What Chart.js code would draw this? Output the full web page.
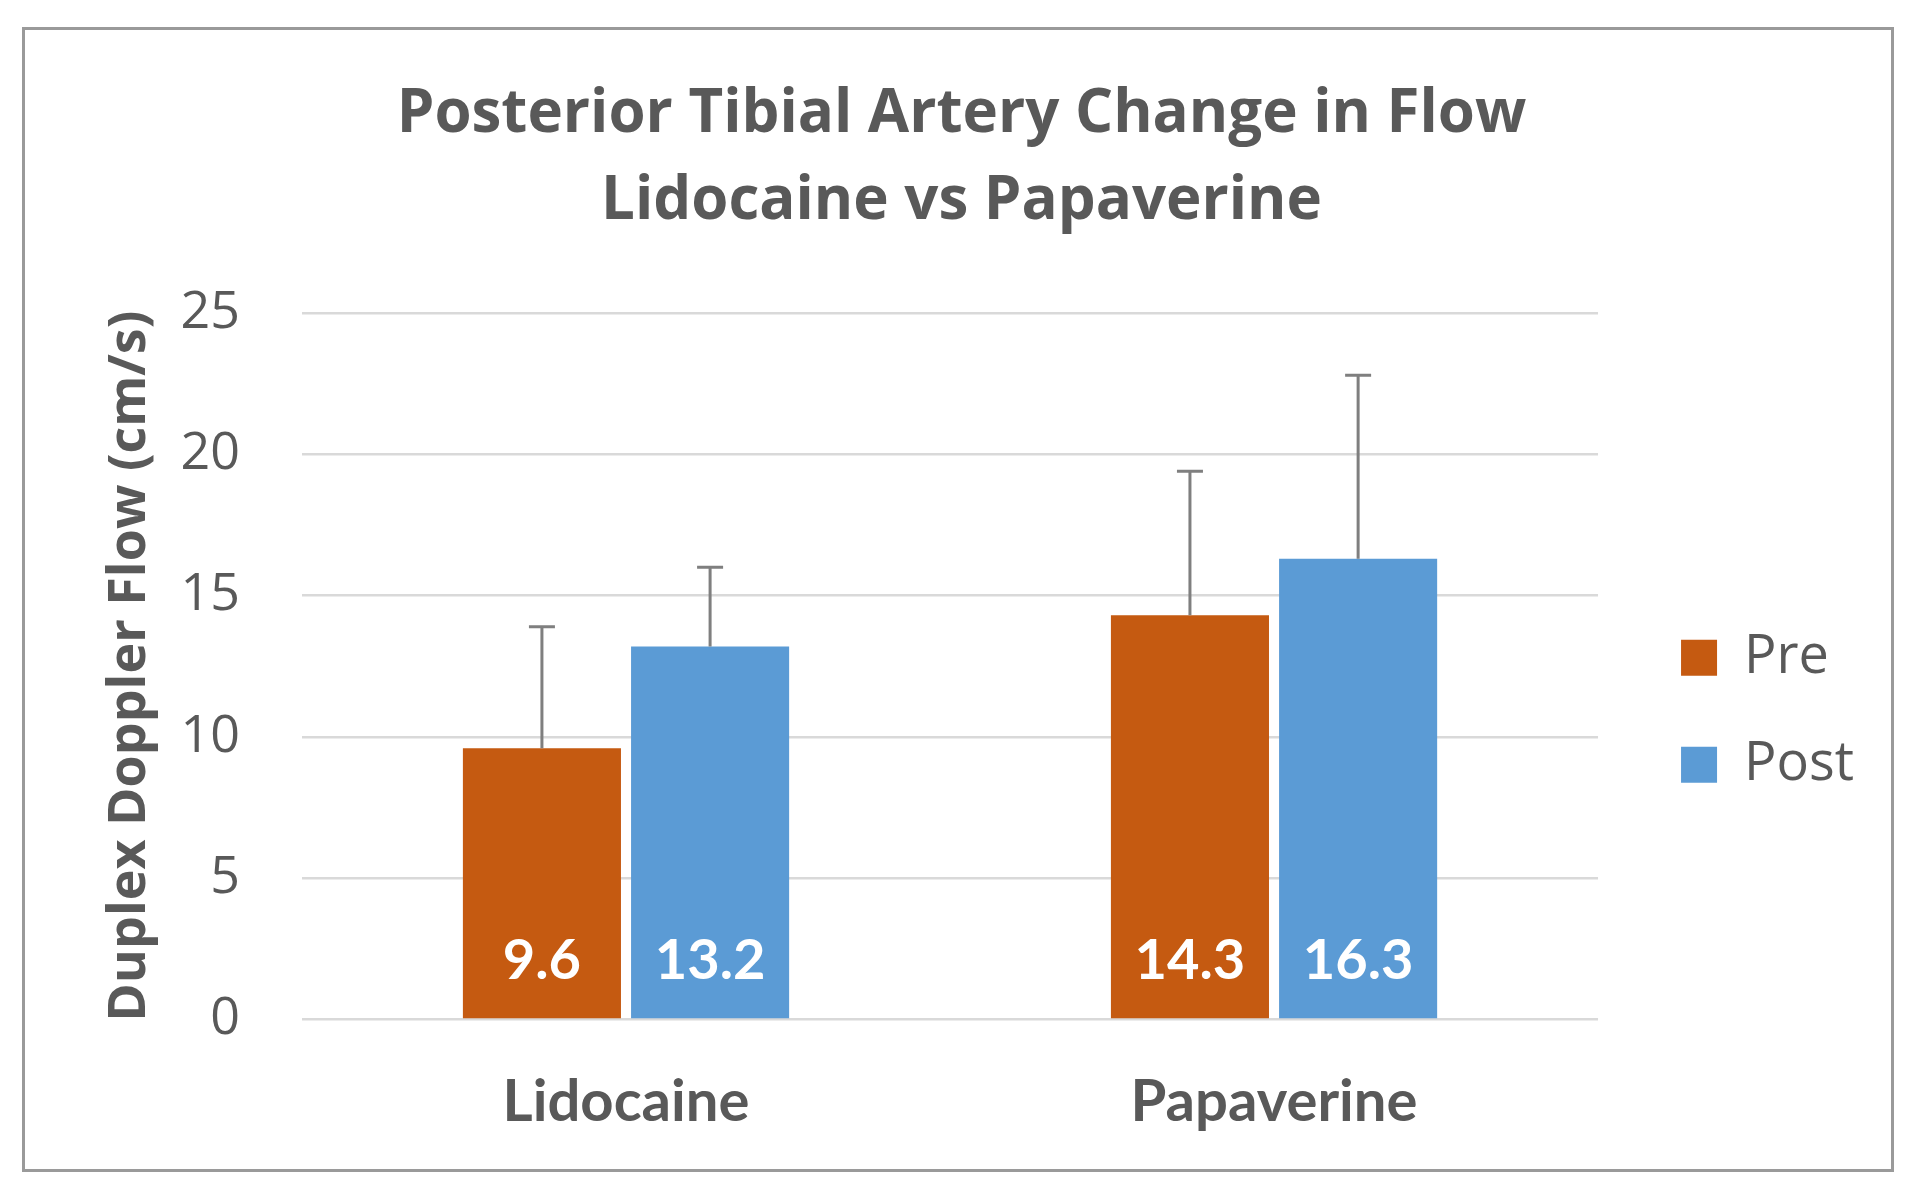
<!DOCTYPE html>
<html>
<head>
<meta charset="utf-8">
<title>Posterior Tibial Artery Change in Flow</title>
<script src="https://cdn.jsdelivr.net/npm/chart.js@4.4.1/dist/chart.umd.min.js"></script>
<style>
  html, body { margin: 0; padding: 0; background: #fff; }
  #wrap { position: relative; width: 1923px; height: 1196px; }
  #frame {
    position: absolute; left: 22px; top: 27px; width: 1872px; height: 1145px;
    border: 3px solid #9a9a9a; box-sizing: border-box; pointer-events: none;
  }
  canvas { display: block; }
</style>
</head>
<body>
<div id="wrap">
  <canvas id="flowChart" width="1923" height="1196"></canvas>
  <div id="frame"></div>
</div>
<script>
// data
const categories = ['Lidocaine', 'Papaverine'];
const seriesNames = ['Pre', 'Post'];
const preValues = [9.6, 14.3];
const postValues = [13.2, 16.3];
const preErrors = [4.3, 5.1];   // upper error bar length
const postErrors = [2.8, 6.5];
const yTicks = [0, 5, 10, 15, 20, 25];

const textGray = '#595959';

// draws the (+) error bars on top of each bar
const errorBars = {
  id: 'errorBars',
  afterDatasetsDraw(chart) {
    const ctx = chart.ctx;
    const yScale = chart.scales.y;
    ctx.save();
    ctx.strokeStyle = '#7f7f7f';
    ctx.lineWidth = 3;
    chart.data.datasets.forEach((ds, i) => {
      const meta = chart.getDatasetMeta(i);
      meta.data.forEach((bar, j) => {
        const base = yScale.getPixelForValue(ds.data[j]);
        const top = yScale.getPixelForValue(ds.data[j] + ds.errors[j]);
        ctx.beginPath();
        ctx.moveTo(bar.x, base);
        ctx.lineTo(bar.x, top);
        ctx.moveTo(bar.x - 13, top);
        ctx.lineTo(bar.x + 13, top);
        ctx.stroke();
      });
    });
    ctx.restore();
  }
};

// white value labels near the bottom of the bars
const valueLabels = {
  id: 'valueLabels',
  afterDatasetsDraw(chart) {
    const ctx = chart.ctx;
    const zero = chart.scales.y.getPixelForValue(0);
    ctx.save();
    ctx.fillStyle = '#ffffff';
    ctx.font = 'bold 56px Lato';
    ctx.textAlign = 'center';
    ctx.textBaseline = 'middle';
    chart.data.datasets.forEach((ds, i) => {
      chart.getDatasetMeta(i).data.forEach((bar, j) => {
        ctx.fillText(ds.data[j].toFixed(1), bar.x, zero - 58);
      });
    });
    ctx.restore();
  }
};

new Chart(document.getElementById('flowChart'), {
  type: 'bar',
  data: {
    labels: categories,
    datasets: [
      {
        label: seriesNames[0],
        data: preValues,
        errors: preErrors,
        backgroundColor: '#C55A11'
      },
      {
        label: seriesNames[1],
        data: postValues,
        errors: postErrors,
        backgroundColor: '#5B9BD5'
      }
    ]
  },
  options: {
    responsive: false,
    animation: false,
    categoryPercentage: 0.519,
    barPercentage: 0.94,
    layout: {
      padding: { top: 0, left: 59, right: 59, bottom: 19 }
    },
    plugins: {
      title: {
        display: true,
        text: ['Posterior Tibial Artery Change in Flow', 'Lidocaine vs Papaverine'],
        color: textGray,
        font: { family: 'Open Sans', size: 60, weight: 'bold', lineHeight: 1.45 },
        padding: { top: 71, bottom: 68 }
      },
      legend: {
        position: 'right',
        fullSize: false,
        align: 'center',
        title: {
          display: true,
          text: '',
          font: { size: 10, lineHeight: 1 },
          padding: { top: 80, bottom: 0 }
        },
        labels: {
          color: textGray,
          font: { family: 'Open Sans', size: 54 },
          boxWidth: 36,
          boxHeight: 36,
          padding: 53
        }
      },
      tooltip: { enabled: false }
    },
    scales: {
      x: {
        grid: { display: false },
        border: { display: false },
        ticks: {
          color: textGray,
          font: { family: 'Lato', size: 58, weight: 'bold' },
          padding: 40
        }
      },
      y: {
        min: yTicks[0],
        max: yTicks[yTicks.length - 1],
        afterBuildTicks(scale) {
          scale.ticks = yTicks.map(v => ({ value: v }));
        },
        afterFit(scale) {
          scale.width = 243;
        },
        grid: { color: '#d9d9d9', lineWidth: 2.5, drawTicks: false },
        border: { display: false },
        ticks: {
          color: textGray,
          font: { family: 'Open Sans', size: 52 },
          padding: 62
        },
        title: {
          display: true,
          text: 'Duplex Doppler Flow (cm/s)',
          color: textGray,
          font: { family: 'Open Sans', size: 52, weight: 'bold' },
          padding: { top: 40, bottom: 0 }
        }
      },
      // empty spacer between plot and legend
      gap: {
        position: 'right',
        display: true,
        grid: { display: false },
        border: { display: false },
        ticks: { display: false },
        afterFit(scale) {
          scale.width = 30;
        }
      }
    }
  },
  plugins: [errorBars, valueLabels]
});
</script>
</body>
</html>
